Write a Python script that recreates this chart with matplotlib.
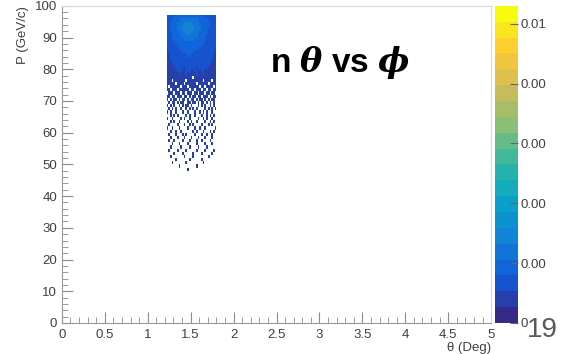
import numpy as np
import matplotlib
matplotlib.use("Agg")
import matplotlib.pyplot as plt
from matplotlib.colors import LinearSegmentedColormap, BoundaryNorm
from matplotlib.ticker import MultipleLocator

# ---- data: 2D histogram (theta bins x momentum bins), colour band index per cell (0 = empty)
theta_lo, theta_hi, theta_nbins = 1.22, 1.80, 29
p_lo, p_hi = 48, 97
# rows from P = 96-97 (top) down to P = 48-49 (bottom); one digit per theta bin
band_rows = [
    "22222333333333333333322222222",
    "22233333444444444433333322222",
    "22333344445555544443333332222",
    "22333344455555554444333332222",
    "22333344455555554444333322222",
    "22233334444555444443333322222",
    "22233333444444444433333222222",
    "22223333334444443333333222222",
    "22222333333333333333332222222",
    "22222233333333333333322222222",
    "12222223333333333332222222221",
    "12222222233333332222222222221",
    "11222222222233222222222222211",
    "11222222222222222222222222211",
    "11122222222222222222222222111",
    "11112222222222222222222221111",
    "11111222221222222122222211111",
    "11111122211222112121221111111",
    "11111112111211111211121111111",
    "11111111111111101111111111111",
    "11101111111011111111101111011",
    "11111011110111111011111101111",
    "10111111011101111110110111101",
    "11011101111110110111011011011",
    "01110111011011101101110110110",
    "11011011101101011011011101011",
    "10101101011010110101101010110",
    "01011010110011011010110101010",
    "10101001010110100010101001010",
    "01010100100101010100001010101",
    "10100100010010001001010100100",
    "00101010000101001000100101010",
    "10010000101001000010010100100",
    "00101001000010100100001001010",
    "01000010001001010000100010100",
    "10010001000010001001001000001",
    "00100100100000010100010001010",
    "01000100010100001000100100100",
    "00100010001000100010001000100",
    "01001000010001000100100001000",
    "00010001000010000100001000100",
    "00100000100001000010000100000",
    "01000010000100000100001000010",
    "00001000010000010000100000100",
    "00100000001000010000000010000",
    "00000100000001000000100000000",
    "00010000000100000000010000000",
    "00000001000000000100000000000",
    "00000000000010000000000000000",
]
z_max = 0.0106
n_levels = 20
cbar_ticks = [0, 0.002, 0.004, 0.006, 0.008, 0.01]
cbar_labels = ["0", "0.00", "0.00", "0.00", "0.00", "0.01"]
x_ticks = [0, 0.5, 1, 1.5, 2, 2.5, 3, 3.5, 4, 4.5, 5]
x_tick_labels = ["0", "0.5", "1", "1.5", "2", "2.5", "3", "3.5", "4", "4.5", "5"]
y_ticks = [0, 10, 20, 30, 40, 50, 60, 70, 80, 90, 100]

# ---- ROOT kBird palette
stops = [0.0, 0.125, 0.25, 0.375, 0.5, 0.625, 0.75, 0.875, 1.0]
red = [0.2082, 0.0592, 0.0780, 0.0232, 0.1802, 0.5301, 0.8186, 0.9956, 0.9764]
green = [0.1664, 0.3599, 0.5041, 0.6419, 0.7178, 0.7492, 0.7328, 0.7862, 0.9832]
blue = [0.5293, 0.8684, 0.8385, 0.7914, 0.6425, 0.4662, 0.3499, 0.1968, 0.0539]
bird = LinearSegmentedColormap.from_list(
    "bird", list(zip(stops, zip(red, green, blue))), N=256)
bounds = np.linspace(0, z_max, n_levels + 1)
norm = BoundaryNorm(bounds, bird.N)

bands = np.array([[int(c) for c in r] for r in band_rows[::-1]], dtype=float)
values = np.ma.masked_where(bands == 0, (bands + 0.5) * (z_max / n_levels))
theta_edges = np.linspace(theta_lo, theta_hi, theta_nbins + 1)
p_edges = np.arange(p_lo, p_hi + 1)

plt.rcParams["font.family"] = ["Liberation Sans", "DejaVu Sans"]
plt.rcParams["mathtext.fontset"] = "custom"
plt.rcParams["mathtext.it"] = "DejaVu Serif:italic:bold"

fig = plt.figure(figsize=(5.62, 3.54), dpi=100)
ax = fig.add_axes([0.110, 0.0876, 0.764, 0.896])
mesh = ax.pcolormesh(theta_edges, p_edges, values, cmap=bird, norm=norm,
                     shading="flat", rasterized=True)
ax.set_xlim(0, 5)
ax.set_ylim(0, 100)
ax.set_xticks(x_ticks)
ax.set_xticklabels(x_tick_labels)
ax.set_yticks(y_ticks)
ax.xaxis.set_minor_locator(MultipleLocator(0.1))
ax.yaxis.set_minor_locator(MultipleLocator(2))
ax.tick_params(which="both", direction="in", colors="0.55", labelcolor="0.25",
               labelsize=9.5)
ax.tick_params(which="major", length=8)
ax.tick_params(which="minor", length=4)
ax.tick_params(axis="x", pad=4)
for s in ["left", "bottom"]:
    ax.spines[s].set_color("0.6")
for s in ["top", "right"]:
    ax.spines[s].set_color("0.85")
ax.set_xlabel("θ (Deg)", fontsize=9.5, color="0.25", loc="right", labelpad=1)
ax.set_ylabel("P (GeV/c)", fontsize=9.5, color="0.25", loc="top", labelpad=4)

cax = fig.add_axes([0.881, 0.0876, 0.041, 0.896])
cb = fig.colorbar(mesh, cax=cax, ticks=cbar_ticks)
cb.set_ticklabels(cbar_labels)
cb.outline.set_visible(False)
cax.tick_params(direction="in", length=6, colors="0.4", labelcolor="0.25",
                labelsize=9.5, pad=2)
cax.minorticks_off()

fig.text(0.605, 0.823, "n $\\theta$ vs $\\phi$", fontsize=24, fontweight="bold",
         ha="center", va="center", color="black")
fig.text(0.938, 0.048, "19", fontsize=20, color="0.35", ha="left", va="baseline")

fig.savefig("out.png", dpi=100)
